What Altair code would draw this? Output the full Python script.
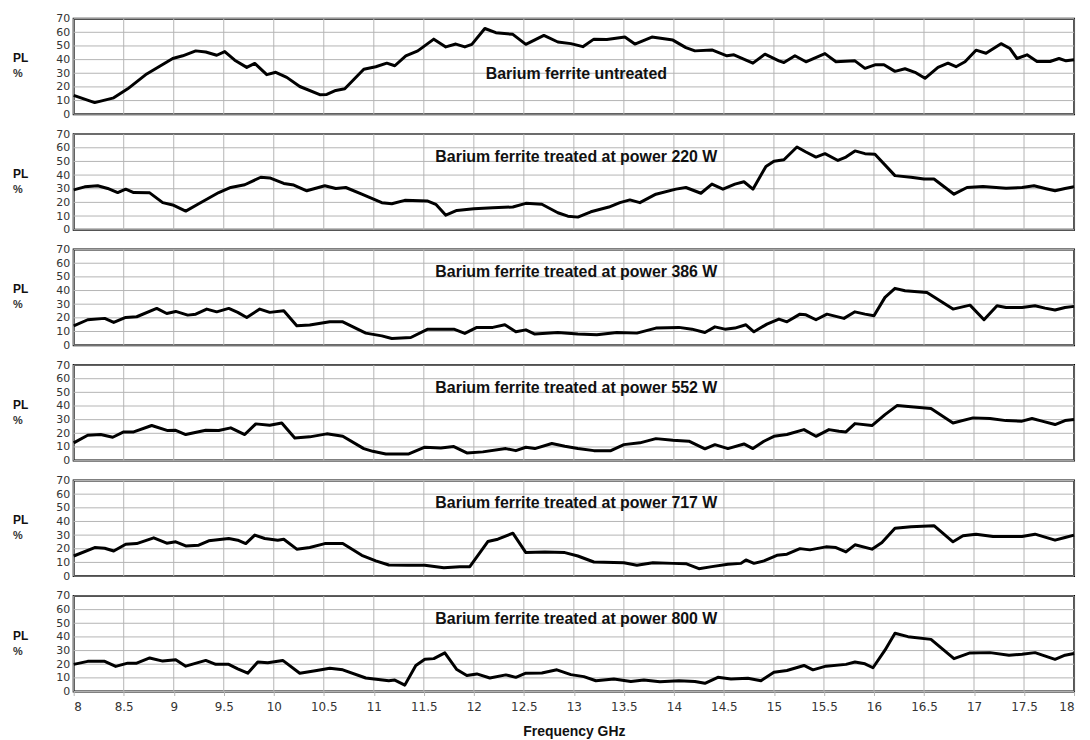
import altair as alt
import pandas as pd

titles = [
    "Barium ferrite untreated",
    "Barium ferrite treated at power 220 W",
    "Barium ferrite treated at power 386 W",
    "Barium ferrite treated at power 552 W",
    "Barium ferrite treated at power 717 W",
    "Barium ferrite treated at power 800 W",
]

f0 = [8.0, 8.21, 8.4, 8.54, 8.73, 8.99, 9.09, 9.22, 9.32, 9.43, 9.51, 9.61, 9.73, 9.81, 9.93, 10.02, 10.13, 10.26,
      10.46, 10.53, 10.62, 10.71, 10.9, 11.02, 11.13, 11.21, 11.32, 11.44, 11.6, 11.72, 11.82, 11.91, 11.98, 12.11,
      12.22, 12.39, 12.52, 12.7, 12.84, 12.97, 13.09, 13.2, 13.33, 13.51, 13.61, 13.78, 13.99, 14.12, 14.21, 14.38,
      14.53, 14.6, 14.79, 14.91, 15.05, 15.1, 15.21, 15.32, 15.51, 15.62, 15.81, 15.91, 16.01, 16.1, 16.21, 16.31,
      16.41, 16.51, 16.64, 16.74, 16.82, 16.91, 17.02, 17.12, 17.27, 17.36, 17.43, 17.53, 17.63, 17.76, 17.85, 17.92, 18.0]
v0 = [13.8, 8.5, 12, 18.6, 29.5, 40.8, 42.8, 46.4, 45.6, 43.2, 45.9, 39.6, 34.3, 37.2, 29, 30.7, 27, 20.3,
      14.3, 14.5, 17.4, 18.6, 33, 34.8, 37.4, 35.5, 42.8, 46.4, 55, 49.3, 51.4, 49.3, 51.2, 62.8,
      59.7, 58.5, 51.2, 57.7, 52.9, 51.7, 49.5, 55, 54.8, 56.5, 51.4, 56.5, 54.3, 48.8, 46.4, 47.1,
      42.8, 43.5, 37.4, 44, 39.1, 37.9, 42.8, 38.4, 44.4, 38.4, 39.1, 33.6, 36.2, 36.2, 31.4, 33.3,
      30.7, 26.3, 34.3, 37.4, 34.8, 38.4, 46.9, 44.7, 51.7, 48.1, 40.8, 43.5, 38.6, 38.6, 40.8, 39.1, 39.9]

f1 = [8.0, 8.11, 8.24, 8.34, 8.44, 8.52, 8.6, 8.76, 8.89, 8.99, 9.12, 9.25, 9.45, 9.57, 9.71, 9.87, 9.96, 10.1,
      10.2, 10.33, 10.51, 10.62, 10.72, 10.88, 11.08, 11.18, 11.31, 11.54, 11.62, 11.72, 11.83, 12.0, 12.19, 12.39,
      12.52, 12.68, 12.84, 12.94, 13.04, 13.17, 13.35, 13.46, 13.56, 13.66, 13.82, 14.02, 14.12, 14.27, 14.38,
      14.49, 14.61, 14.7, 14.79, 14.92, 15.0, 15.1, 15.23, 15.32, 15.42, 15.51, 15.64, 15.72, 15.81, 15.91, 16.01,
      16.21, 16.37, 16.5, 16.6, 16.8, 16.93, 17.09, 17.32, 17.48, 17.6, 17.71, 17.81, 17.91, 18.0]
v1 = [29.2, 31.4, 32.2, 30.2, 27.2, 29.7, 27.2, 27, 19.8, 18.1, 13.6, 19, 27.2, 30.9, 32.9, 38.4, 37.9, 33.9,
      32.7, 28.5, 32.2, 30.2, 30.9, 26, 19.8, 19, 21.5, 21, 18.6, 10.6, 14.1, 15.3, 16.1, 16.6,
      19.3, 18.6, 12.4, 9.9, 9.2, 13.1, 16.6, 19.8, 21.8, 19.8, 26, 29.7, 30.9, 26.7, 33.4,
      29.7, 33.4, 35.1, 29.7, 46.3, 50.2, 51.2, 60.6, 56.9, 53.2, 55.7, 50.7, 53.2, 57.7, 55.7, 55.2,
      39.6, 38.4, 37.1, 37.1, 26, 30.9, 31.7, 30.4, 30.9, 32.2, 30.2, 28.5, 30.2, 31.4]

f2 = [8.0, 8.14, 8.31, 8.4, 8.52, 8.63, 8.83, 8.93, 9.02, 9.14, 9.22, 9.33, 9.43, 9.55, 9.64, 9.73, 9.86, 9.96,
      10.1, 10.23, 10.36, 10.56, 10.69, 10.92, 11.08, 11.18, 11.37, 11.54, 11.8, 11.91, 12.03, 12.19, 12.31, 12.42,
      12.52, 12.61, 12.84, 13.04, 13.23, 13.43, 13.63, 13.82, 14.05, 14.18, 14.31, 14.41, 14.51, 14.61, 14.72,
      14.8, 14.93, 15.05, 15.13, 15.26, 15.32, 15.42, 15.53, 15.7, 15.81, 15.91, 16.0, 16.11, 16.21, 16.31, 16.53,
      16.66, 16.79, 16.96, 17.1, 17.23, 17.32, 17.48, 17.61, 17.71, 17.81, 17.91, 18.0]
v2 = [14.2, 18.6, 19.6, 16.6, 20.3, 20.8, 26.9, 23.2, 24.7, 22, 22.7, 26.4, 24.4, 26.9, 24, 20.3, 26.4, 24,
      25.2, 14.2, 14.7, 17.1, 17.1, 8.8, 6.8, 4.9, 5.6, 11.7, 11.7, 8.6, 13, 13, 14.9, 9.8,
      11.2, 8.1, 9.3, 8.1, 7.6, 9.3, 8.8, 12.5, 13, 11.7, 9.3, 13.4, 11.7, 12.5, 14.9,
      9.8, 15.4, 19.1, 17.1, 22.7, 22.2, 18.6, 22.7, 19.6, 24.4, 22.7, 21.5, 35, 41.6, 39.9, 38.6,
      32.5, 26.4, 29.3, 18.6, 28.9, 27.6, 27.6, 28.9, 27.1, 25.7, 27.6, 28.4]

f3 = [8.0, 8.14, 8.27, 8.39, 8.5, 8.6, 8.78, 8.94, 9.02, 9.12, 9.32, 9.45, 9.57, 9.71, 9.82, 9.96, 10.08, 10.21,
      10.36, 10.53, 10.69, 10.9, 10.99, 11.12, 11.35, 11.51, 11.67, 11.8, 11.93, 12.09, 12.32, 12.42, 12.52, 12.61,
      12.78, 12.91, 13.04, 13.2, 13.37, 13.5, 13.66, 13.82, 13.99, 14.15, 14.31, 14.41, 14.54, 14.7, 14.79, 14.9,
      15.0, 15.13, 15.3, 15.42, 15.55, 15.65, 15.72, 15.81, 15.98, 16.11, 16.23, 16.37, 16.57, 16.79, 16.99, 17.16,
      17.32, 17.48, 17.58, 17.68, 17.81, 17.91, 18.0]
v3 = [13, 18.6, 19.1, 17.1, 21, 21, 25.7, 22, 22.2, 19.1, 22.2, 22, 24, 19.1, 26.9, 25.9, 27.6, 16.6,
      17.4, 19.6, 17.8, 8.8, 6.8, 4.9, 4.9, 9.8, 9.3, 10.3, 5.6, 6.4, 8.8, 7.3, 9.8, 8.8,
      12.5, 10.5, 8.8, 7.3, 7.3, 11.7, 13, 16.1, 14.9, 14.2, 8.6, 11.7, 8.8, 12.2, 8.8, 14.2,
      17.8, 19.1, 22.7, 17.8, 22.7, 21.5, 21, 27.1, 25.7, 33.7, 40.3, 39.4, 38.1, 27.6, 31.3, 30.8,
      29.3, 28.9, 30.8, 28.9, 26.4, 29.3, 30.1]

f4 = [8.0, 8.21, 8.31, 8.4, 8.52, 8.63, 8.8, 8.93, 9.02, 9.12, 9.25, 9.35, 9.55, 9.64, 9.72, 9.81, 9.91, 10.04,
      10.1, 10.23, 10.36, 10.51, 10.69, 10.88, 11.02, 11.15, 11.34, 11.51, 11.7, 11.86, 11.96, 12.14, 12.24, 12.39,
      12.52, 12.71, 12.91, 13.04, 13.2, 13.5, 13.63, 13.79, 13.99, 14.12, 14.25, 14.38, 14.54, 14.67, 14.72, 14.8,
      14.9, 15.03, 15.13, 15.26, 15.36, 15.52, 15.62, 15.72, 15.81, 15.98, 16.08, 16.21, 16.37, 16.6, 16.79, 16.89,
      17.02, 17.19, 17.48, 17.61, 17.81, 17.91, 18.0]
v4 = [14.7, 20.9, 20.4, 18.4, 23.3, 23.8, 28, 24.1, 25.1, 22.1, 22.6, 25.8, 27.5, 26.3, 23.8, 30, 27.5, 26.3,
      27, 19.7, 20.9, 23.8, 23.8, 15.2, 11.1, 8.1, 7.9, 7.9, 6.1, 6.9, 6.9, 25.3, 27, 31.4,
      17.2, 17.7, 17.2, 14.7, 10.3, 9.8, 7.9, 9.8, 9.3, 9.1, 5.4, 6.9, 8.6, 9.3, 11.8, 9.3,
      11.1, 15.2, 16, 20.1, 19.2, 21.4, 20.9, 17.7, 22.9, 19.7, 24.6, 35.1, 36.1, 36.9, 25.1, 29.5,
      30.7, 29, 29, 30.7, 26.3, 28.3, 30]

f5 = [8.0, 8.14, 8.31, 8.42, 8.54, 8.63, 8.76, 8.89, 9.02, 9.12, 9.32, 9.42, 9.55, 9.64, 9.74, 9.84, 9.94, 10.09,
      10.26, 10.43, 10.56, 10.69, 10.92, 11.15, 11.21, 11.31, 11.42, 11.51, 11.6, 11.71, 11.83, 11.93, 12.03, 12.16,
      12.32, 12.42, 12.52, 12.68, 12.83, 12.97, 13.1, 13.22, 13.4, 13.57, 13.7, 13.86, 14.05, 14.21, 14.31, 14.44,
      14.57, 14.74, 14.87, 15.0, 15.13, 15.3, 15.39, 15.52, 15.72, 15.81, 15.91, 15.99, 16.11, 16.21, 16.34, 16.57,
      16.8, 16.96, 17.16, 17.35, 17.48, 17.61, 17.81, 17.91, 18.0]
v5 = [19.9, 22.1, 22.1, 18.4, 20.8, 20.8, 24.6, 22.3, 23.3, 18.6, 22.8, 19.9, 19.9, 16.6, 13.4, 21.6, 21.1, 22.8,
      13.4, 15.4, 17.1, 15.9, 9.9, 7.9, 8.4, 4.7, 19.1, 23.6, 24.1, 28.3, 16.1, 11.7, 12.9, 9.9,
      12.2, 10.4, 13.4, 13.6, 15.9, 12.4, 10.9, 7.9, 9.2, 7.4, 8.4, 7.2, 7.9, 7.4, 6, 10.4,
      9.2, 9.7, 7.9, 14.1, 15.4, 19.1, 15.9, 18.6, 19.9, 21.6, 20.3, 17.4, 30.3, 42.7, 40.2, 38.2,
      24.1, 28.3, 28.5, 26.6, 27.3, 28.5, 23.6, 26.6, 27.8]

freqs = [f0, f1, f2, f3, f4, f5]
vals = [v0, v1, v2, v3, v4, v5]
x_ticks = [8 + 0.5 * i for i in range(21)]
y_ticks = [0, 10, 20, 30, 40, 50, 60, 70]

FONT = "Liberation Sans"
AXF = "DejaVu Sans"
W, H = 1005, 96
GRID = "#b4b4b4"


def panel(i):
    last = i == len(titles) - 1
    df = pd.DataFrame({"f": freqs[i], "pl": vals[i]})
    if last:
        xaxis = alt.Axis(
            values=x_ticks, grid=False, domain=False, format="~g",
            ticks=True, tickColor=GRID, tickSize=4, labels=True, labelOverlap=False,
            labelFont=AXF, labelFontSize=12, labelColor="#333", labelPadding=6,
            title="Frequency GHz", titleFont=FONT, titleFontSize=14, titleFontWeight="bold",
            titleColor="#111", titlePadding=12,
        )
    else:
        xaxis = alt.Axis(values=x_ticks, grid=False, domain=False, ticks=False, labels=False, title=None)
    yaxis = alt.Axis(
        values=y_ticks, grid=False, domain=False,
        ticks=False, labelOverlap=False, labelFont=AXF, labelFontSize=11, labelColor="#333",
        labelPadding=4, title=None,
    )
    xs = alt.Scale(domain=[8, 18], nice=False)
    ys = alt.Scale(domain=[0, 70], nice=False)
    hgrid = alt.Chart(pd.DataFrame({"g": y_ticks})).mark_rule(color=GRID, strokeWidth=1).encode(
        y=alt.Y("g:Q", scale=ys, axis=yaxis)
    )
    vgrid = alt.Chart(pd.DataFrame({"g": x_ticks})).mark_rule(color=GRID, strokeWidth=1).encode(
        x=alt.X("g:Q", scale=xs, axis=xaxis)
    )
    line = alt.Chart(df).mark_line(color="black", strokeWidth=3, strokeJoin="round").encode(
        x=alt.X("f:Q", scale=xs, axis=xaxis),
        y=alt.Y("pl:Q", scale=ys, axis=yaxis),
    )
    ty = 56 if i == 0 else 23
    ttl = alt.Chart(pd.DataFrame({"t": [titles[i]]})).mark_text(
        font=FONT, fontSize=16, fontWeight="bold", color="#111", baseline="middle"
    ).encode(x=alt.value(505), y=alt.value(ty), text="t:N")
    pl = alt.Chart(pd.DataFrame({"t": ["PL"]})).mark_text(
        font=FONT, fontSize=12, fontWeight="bold", color="#111", align="left"
    ).encode(x=alt.value(-61), y=alt.value(40), text="t:N")
    pc = alt.Chart(pd.DataFrame({"t": ["%"]})).mark_text(
        font=FONT, fontSize=11, fontWeight="bold", color="#333", align="left"
    ).encode(x=alt.value(-61), y=alt.value(56), text="t:N")
    return alt.layer(vgrid, hgrid, line, ttl, pl, pc).properties(width=W, height=H)


chart = alt.vconcat(*[panel(i) for i in range(len(titles))], spacing=7).configure_view(
    stroke="black", strokeWidth=2
).properties(padding={"top": 2, "left": 4, "right": 5, "bottom": 2}, background="white")

chart.save("out.html", embed_options={"renderer": "svg", "actions": False})
